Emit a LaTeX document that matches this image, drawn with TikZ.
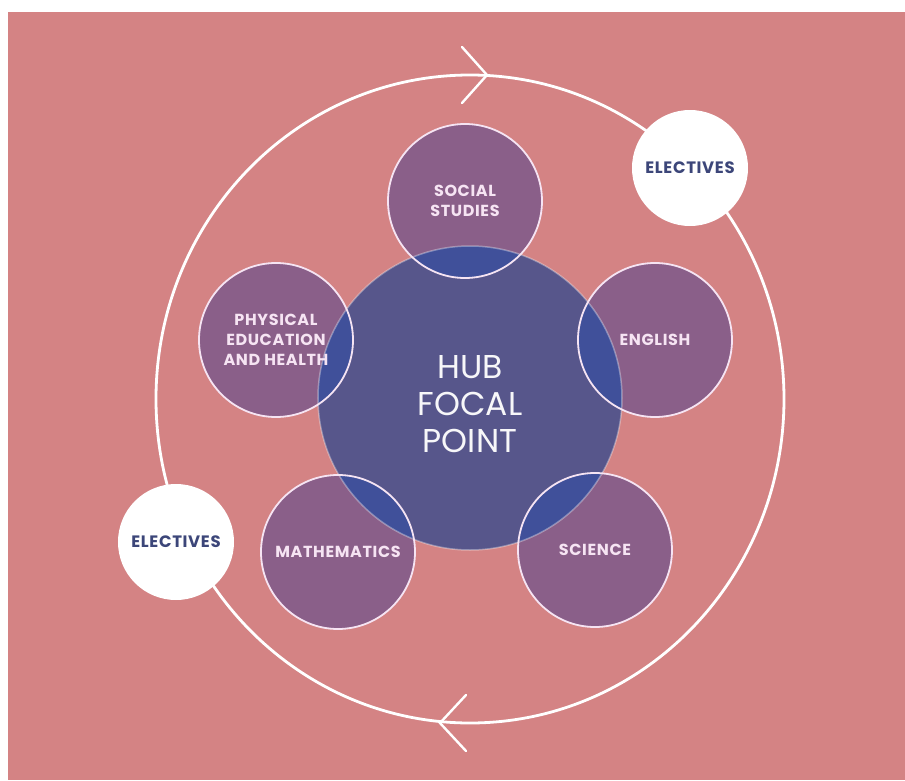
\documentclass[tikz,border=0pt]{standalone}
\usepackage{fontspec}
\setmainfont{Poppins}
\usepackage{tikz}
\usetikzlibrary{positioning}

\definecolor{bgpink}{HTML}{D48384}
\definecolor{hubblue}{HTML}{57568B}
\definecolor{subjpurple}{HTML}{8A5F89}
\definecolor{overlapblue}{HTML}{40509A}
\definecolor{subjtext}{HTML}{F6E4F3}
\definecolor{electnavy}{HTML}{3C4679}

\begin{document}
\begin{tikzpicture}[x=1pt, y=1pt,
  hubc/.style={circle, fill=hubblue, draw=white, draw opacity=0.35, line width=1.5pt, minimum size=304pt, inner sep=0pt},
  hubtext/.style={align=center, text=white!95!hubblue, inner sep=0pt, font=\fontsize{33}{37}\selectfont},
  subj/.style={circle, fill=subjpurple, draw=subjtext, line width=1.8pt, minimum size=154pt, inner sep=0pt, align=center, text=subjtext, font=\bfseries\fontsize{16}{20}\selectfont\addfontfeature{LetterSpace=4},
    path picture={
      \fill[overlapblue] (hub.center) circle (152);
      \draw[white, opacity=0.35, line width=1.5pt] (hub.center) circle (152);
    }},
  elect/.style={circle, fill=white, minimum size=116pt, inner sep=0pt, text=electnavy, font=\bfseries\fontsize{16.5}{20}\selectfont\addfontfeature{LetterSpace=4}},
  ringline/.style={white, line width=2.8pt},
  chev/.style={white, line width=2.4pt, line cap=round}
]

% page and backdrop
\useasboundingbox (-470,398) rectangle (435,-382);
\fill[white] (-470,398) rectangle (435,-382);
\fill[bgpink] (-462,386) rectangle (435,-382);

% outer cycle with its two arrow heads
\draw[ringline] (0,-1) ellipse [x radius=314, y radius=324];
\coordinate (toptip) at (17,323);
\coordinate (bottip) at (-30,-325);
\draw[chev] (toptip) ++(-25,28) -- (toptip) -- ++(-25,-28);
\draw[chev] (bottip) ++(26,28) -- (bottip) -- ++(26,-28);

% hub
\node[hubc] (hub) at (0,0) {};
\node[hubtext] (hubtxt) at ([yshift=-6pt]hub.center) {HUB\\FOCAL\\POINT};

% subjects round the hub
\node[subj] (soc) at (-5,197) {SOCIAL\\STUDIES};
\node[subj] (eng) at (185,58) {ENGLISH};
\node[subj] (sci) at (125,-152) {SCIENCE};
\node[subj] (math) at (-132,-154) {MATHEMATICS};
\node[subj] (phys) at (-194,58) {PHYSICAL\\EDUCATION\\AND HEALTH};

% electives on the cycle
\node[elect] (electa) at (220,230) {ELECTIVES};
\node[elect] (electb) at (-294,-144) {ELECTIVES};

\end{tikzpicture}
\end{document}
